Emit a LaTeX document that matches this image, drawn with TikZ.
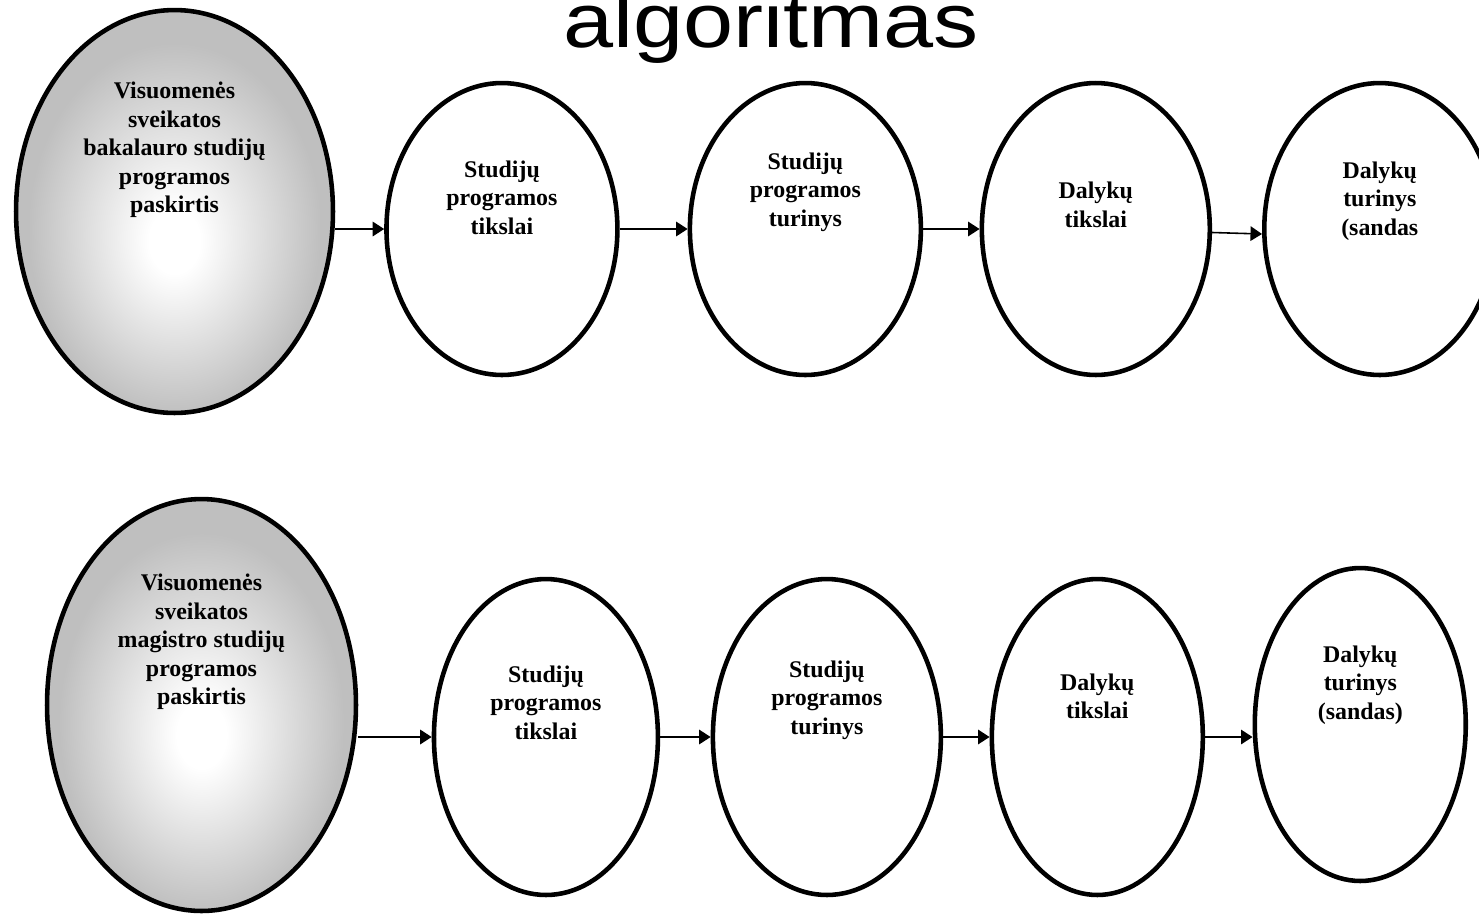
\documentclass[tikz,border=0pt]{standalone}
\usepackage{fontspec}
\setmainfont{Liberation Serif}
\newfontfamily\titlefont{Liberation Sans}
\usetikzlibrary{shapes.geometric,arrows.meta}
\pgfdeclareradialshading{glow}{\pgfpoint{0bp}{-4bp}}{color(0bp)=(white); color(4bp)=(white); color(23bp)=(gray!50); color(50bp)=(gray!50)}

\begin{document}
\begin{tikzpicture}[x=0.02cm, y=-0.02cm, line width=2.6pt,
	main node/.style={ellipse, draw, inner sep=0pt, minimum width=4.62cm, minimum height=5.84cm},
	goal node/.style={main node, shading=glow},
	label node/.style={align=center, font=\fontsize{13.6}{16.2}\selectfont\bfseries},
	title node/.style={font=\titlefont\fontsize{43.8}{50}\selectfont},
	flow/.style={line width=0.9pt, -{Triangle[length=0.23cm, width=0.29cm]}}]
	\useasboundingbox (0,0) rectangle (1479,914);
	\node[title node, anchor=base] (T) at (771,47) {\scalebox{1.17}[1]{algoritmas}};
	% bakalauras
	\node[goal node, minimum width=6.34cm, minimum height=8.06cm] (A1) at (174.5,211.5) {};
	\node[main node] (A2) [node distance=6.55cm, right of=A1, yshift=-0.35cm] {};
	\node[main node] (A3) [node distance=6.07cm, right of=A2] {};
	\node[main node, minimum width=4.56cm] (A4) [node distance=5.81cm, right of=A3] {};
	\node[main node] (A5) [node distance=5.68cm, right of=A4] {};
	\node[label node] (A1t) at ([yshift=1.23cm]A1) {Visuomenės\\sveikatos\\bakalauro studijų\\programos\\paskirtis};
	\node[label node] (A2t) at ([yshift=0.63cm]A2) {Studijų\\programos\\tikslai};
	\node[label node] (A3t) at ([yshift=0.74cm]A3) {Studijų\\programos\\turinys};
	\node[label node] (A4t) at ([yshift=0.48cm]A4) {Dalykų\\tikslai};
	\node[label node] (A5t) at ([yshift=0.56cm]A5) {Dalykų\\turinys\\(sandas};
	\path[flow]
		(A1.east |- A2.west) edge (A2)
		(A2) edge (A3)
		(A3) edge (A4)
		(A4) edge ([yshift=-0.1cm]A5.west);
	% magistras
	\node[goal node, minimum width=6.18cm, minimum height=8.24cm] (B1) at (201.5,705) {};
	\node[main node, minimum width=4.48cm, minimum height=6.32cm] (B2) [node distance=6.89cm, right of=B1, yshift=-0.64cm] {};
	\node[main node, minimum width=4.56cm, minimum height=6.32cm] (B3) [node distance=5.62cm, right of=B2] {};
	\node[main node, minimum width=4.22cm, minimum height=6.32cm] (B4) [node distance=5.41cm, right of=B3] {};
	\node[main node, minimum width=4.22cm, minimum height=6.26cm] (B5) [node distance=5.26cm, right of=B4, yshift=0.25cm] {};
	\node[label node] (B1t) at ([yshift=1.26cm]B1) {Visuomenės\\sveikatos\\magistro studijų\\programos\\paskirtis};
	\node[label node] (B2t) at ([yshift=0.69cm]B2) {Studijų\\programos\\tikslai};
	\node[label node] (B3t) at ([yshift=0.74cm]B3) {Studijų\\programos\\turinys};
	\node[label node] (B4t) at ([yshift=0.81cm]B4) {Dalykų\\tikslai};
	\node[label node] (B5t) at ([yshift=0.79cm]B5) {Dalykų\\turinys\\(sandas)};
	\path[flow]
		(B2.west -| B1.east) edge (B2)
		(B2) edge (B3)
		(B3) edge (B4)
		(B4) edge (B4.east -| B5.west);
\end{tikzpicture}
\end{document}
